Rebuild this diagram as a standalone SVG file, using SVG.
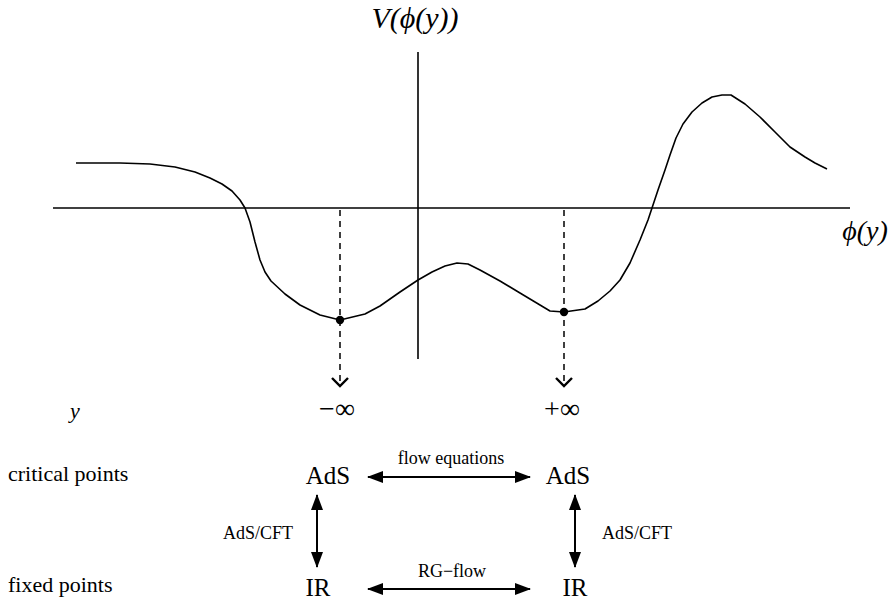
<svg xmlns="http://www.w3.org/2000/svg" width="891" height="600" viewBox="0 0 891 600">
<defs>
<style>
text{font-family:"Liberation Serif","Times New Roman",serif;fill:#000}
.it{font-style:italic}
.ax{stroke:#000;stroke-width:1.6;fill:none}
.curve{stroke:#000;stroke-width:1.6;fill:none;stroke-linejoin:round}
.dash{stroke:#000;stroke-width:1.5;stroke-dasharray:6 5;fill:none}
.chev{stroke:#000;stroke-width:2.4;fill:none}
.arr{stroke:#000;stroke-width:2;fill:none;marker-start:url(#ah);marker-end:url(#ah)}
</style>
<marker id="ah" viewBox="0 0 16 12" refX="15" refY="6" markerWidth="16" markerHeight="12" markerUnits="userSpaceOnUse" orient="auto-start-reverse">
<path d="M0,0 L16,6 L0,12 z" fill="#000"/>
</marker>
</defs>
<rect width="891" height="600" fill="#fff"/>
<g id="plot">
<line class="ax" x1="53" y1="208" x2="850" y2="208"/>
<line class="ax" x1="418" y1="52" x2="418" y2="359"/>
<polyline class="curve" points="76,163 120,163 150,164 175,167 195,172 210,178 222,184 232,191 240,200 245,208 250,222 255,242 260,260 265,272 271,281 285,294 300,305 320,315 340,320 365,314 380,306 400,292 418,280 432,272 445,266 457,263 468,264 480,270 500,281 520,293 540,305 550,311 564,312 585,309 598,301 610,291 620,280 630,263 640,240 648,220 652,208 658,190 665,170 670,155 676,138 683,124 692,112 702,103 712,97 722,95 731,95 745,104 760,117 775,132 790,147 805,157 815,163 827,169"/>
<text class="it" x="415" y="28" font-size="30" text-anchor="middle">V(ϕ(y))</text>
<text class="it" x="865" y="240" font-size="28" text-anchor="middle">ϕ(y)</text>
</g>
<g id="minus-inf">
<line class="dash" x1="340" y1="210" x2="340" y2="386"/>
<circle cx="340" cy="320" r="4.2" fill="#000"/>
<polyline class="chev" points="332,378 340,386 348,378"/>
<text x="337" y="418" font-size="28" text-anchor="middle">−∞</text>
</g>
<g id="plus-inf">
<line class="dash" x1="564" y1="210" x2="564" y2="386"/>
<circle cx="564" cy="312" r="4.2" fill="#000"/>
<polyline class="chev" points="556,378 564,386 572,378"/>
<text x="562" y="418" font-size="28" text-anchor="middle">+∞</text>
</g>
<g id="y-label"><text class="it" x="75" y="418" font-size="22" text-anchor="middle">y</text></g>
<g id="row-labels">
<text x="8" y="481" font-size="22">critical points</text>
<text x="8" y="592" font-size="22">fixed points</text>
</g>
<g id="ads-left"><text x="328" y="484" font-size="25" text-anchor="middle">AdS</text></g>
<g id="ads-right"><text x="568" y="484" font-size="25" text-anchor="middle">AdS</text></g>
<g id="ir-left"><text x="318" y="596" font-size="25" text-anchor="middle">IR</text></g>
<g id="ir-right"><text x="575" y="596" font-size="25" text-anchor="middle">IR</text></g>
<g id="connectors">
<line class="arr" x1="368" y1="477" x2="530" y2="477"/>
<line class="arr" x1="368" y1="589" x2="530" y2="589"/>
<line class="arr" x1="317" y1="495" x2="317" y2="567"/>
<line class="arr" x1="575" y1="495" x2="575" y2="567"/>
<text x="451" y="464" font-size="18" text-anchor="middle">flow equations</text>
<text x="452" y="577" font-size="18" text-anchor="middle">RG−flow</text>
<text x="258" y="539" font-size="18" text-anchor="middle">AdS/CFT</text>
<text x="637" y="539" font-size="18" text-anchor="middle">AdS/CFT</text>
</g>
</svg>
